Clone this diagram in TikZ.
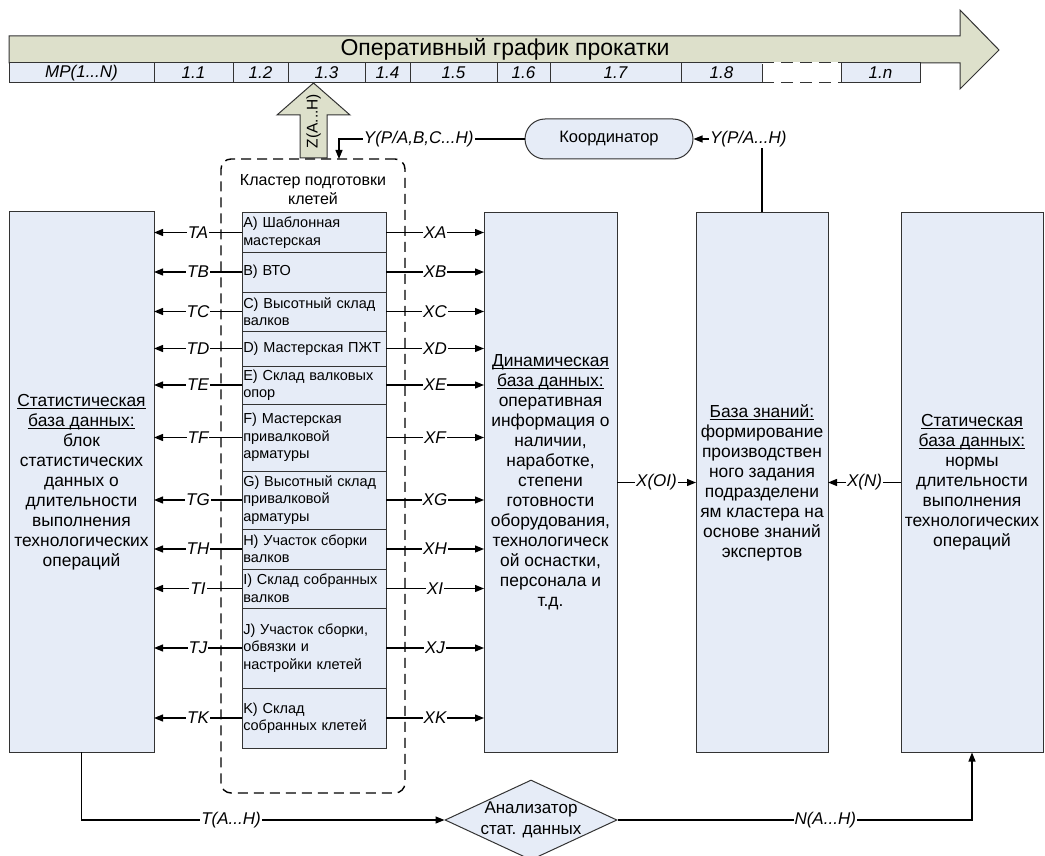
\documentclass[tikz,border=0pt]{standalone}
\usepackage{fontspec}
\setmainfont{Liberation Sans}
\usetikzlibrary{arrows.meta,shapes.geometric}
\definecolor{boxfill}{HTML}{E6ECF7}
\definecolor{bandfill}{HTML}{DDE0CB}
\definecolor{edge}{HTML}{333333}
\newcommand\fsz[2]{\fontsize{#1pt}{#2pt}\selectfont}
% underline sitting just below the baseline
\newcommand\uln[1]{\leavevmode\setbox0\hbox{#1}\rlap{\rule[-2.3pt]{\wd0}{0.9pt}}\box0}

\begin{document}
\begin{tikzpicture}[x=1pt,y=-1pt,
  shape outline/.style={draw=edge, line width=1pt},
  bigbox/.style={shape outline, fill=boxfill, outer sep=0pt, align=center,
    font=\fsz{17.4}{20}, minimum height=540, inner sep=1pt},
  itembox/.style={shape outline, fill=boxfill, outer sep=0pt, align=left,
    font=\fsz{14.5}{17.5}, minimum width=144, text width=141.5, inner xsep=1.25pt, inner ysep=0pt},
  cell/.style={shape outline, fill=boxfill, outer sep=0pt, inner sep=0pt,
    minimum height=20, font=\fsz{17}{18}\itshape},
  flow/.style={draw=black, line width=1.2pt, -{Triangle[length=9pt,width=7pt]}},
  lbl/.style={fill=white, inner sep=1pt, font=\fsz{17}{18}\itshape},
]
\useasboundingbox (0,0) rectangle (1045,856);

% schedule band with its arrow head
\draw[shape outline, fill=bandfill]
  (9,36) -- (960,36) -- (960,10) -- (999,50) -- (960,89) -- (960,63) -- (9,63) -- cycle;
\node[font=\fsz{23}{26}] (title) at (505,49.5) {Оперативный график прокатки};

% schedule cells
\node[cell, minimum width=145] (c0) at (81.5,73) {MP(1...N)};
\node[cell, minimum width=79]  (c1) at (193.5,73) {1.1};
\node[cell, minimum width=55]  (c2) at (260.5,73) {1.2};
\node[cell, minimum width=77]  (c3) at (326.5,73) {1.3};
\node[cell, minimum width=45]  (c4) at (387.5,73) {1.4};
\node[cell, minimum width=87]  (c5) at (453.5,73) {1.5};
\node[cell, minimum width=53]  (c6) at (523.5,73) {1.6};
\node[cell, minimum width=131] (c7) at (615.5,73) {1.7};
\node[cell, minimum width=81]  (c8) at (721.5,73) {1.8};
\node[cell, minimum width=79]  (cn) at (880.5,73) {1.n};
% open gap between 1.8 and 1.n
\draw[white, line width=1.3pt] (c8.north east) -- (cn.north west);
\draw[edge, line width=1pt, dash pattern=on 12pt off 7pt]
  (c8.north east) -- (cn.north west) (c8.south east) -- (cn.south west);

% output arrow of the cluster
\draw[shape outline, fill=bandfill]
  (300,158) -- (300,115) -- (277,115) -- (313.5,83) -- (350,115) -- (327,115) -- (327,158) -- cycle;
\node[rotate=90, font=\fsz{15.5}{18}] (zout) at (313.5,121) {Z(A...H)};

% cluster frame
\node[draw=black, line width=1.4pt, dash pattern=on 10pt off 6pt, rounded corners=10pt,
  minimum width=184, minimum height=634, inner sep=0pt] (cl) at (313,476) {};
\node[align=center, font=\fsz{16}{19}] (clt) at (313,189.5) {Кластер подготовки\\клетей};

% coordinator
\node[shape outline, fill=boxfill, rounded corners=20pt, minimum width=168, minimum height=40,
  inner sep=0pt, font=\fsz{16.5}{19}] (co) at (609,139) {Координатор};
\coordinate (clin) at (339,159);

% databases
\node[bigbox, minimum width=145] (lb) at (81.5,482) {\uln{Статистическая}\\\uln{база данных:}\\блок\\статистических\\данных о\\длительности\\выполнения\\технологических\\операций};
\node[bigbox, minimum width=133] (db) at (550.5,482.5) {\uln{Динамическая}\\\uln{база данных:}\\оперативная\\информация о\\наличии,\\наработке,\\степени\\готовности\\оборудования,\\технологическ\\ой оснастки,\\персонала и\\т.д.};
\node[bigbox, minimum width=132] (kb) at (762,482.5) {\uln{База знаний:}\\формирование\\производствен\\ного задания\\подразделени\\ям кластера на\\основе знаний\\экспертов};
\node[bigbox, minimum width=142] (sb) at (972,482.5) {\uln{Статическая}\\\uln{база данных:}\\нормы\\длительности\\выполнения\\технологических\\операций};

% cluster units with their outputs
\foreach \k/\ya/\yb/\txt in {
  A/213/252/{A) Шаблонная\\мастерская},
  B/252/292/{B) ВТО},
  C/292/331/{C) Высотный склад\\валков},
  D/331/366/{D) Мастерская ПЖТ},
  E/366/404/{E) Склад валковых\\опор},
  F/404/471/{F) Мастерская\\привалковой\\арматуры},
  G/471/529/{G) Высотный склад\\привалковой\\арматуры},
  H/529/569/{H) Участок сборки\\валков},
  I/569/608/{I) Склад собранных\\валков},
  J/608/688/{J) Участок сборки,\\обвязки и\\настройки клетей},
  K/688/748/{K) Склад\\собранных клетей}} {
  \node[itembox, minimum height={\yb-\ya}, anchor=north west] (i\k) at (242,\ya) {\txt};
  \draw[flow] (i\k.west) -- node[lbl] {T\k} (lb.east |- i\k.west);
  \draw[flow] (i\k.east) -- node[lbl] {X\k} (db.west |- i\k.east);
}

% analyser of statistics
\node[diamond, shape outline, fill=boxfill, minimum width=172, minimum height=80, inner sep=0pt] (an) at (531,820) {};
\node[align=center, font=\fsz{17}{21}] (ant) at (531,820) {Анализатор\\стат. данных};

% connectors
\draw[flow] (db.east) -- node[lbl] {X(OI)} (kb.west);
\draw[flow] (sb.west) -- node[lbl] {X(N)} (kb.east);
\draw[flow] (kb.north) |- node[lbl, pos=0.6] {Y(P/A...H)} (co.east);
\draw[flow] (co.west) -| node[lbl, pos=0.285] {Y(P/A,B,C...H)} (clin);
\draw[flow] (lb.south) |- node[lbl, pos=0.706] {T(A...H)} (an.west);
\draw[flow] (an.east) -| node[lbl, pos=0.293] {N(A...H)} (sb.south);
\end{tikzpicture}
\end{document}
